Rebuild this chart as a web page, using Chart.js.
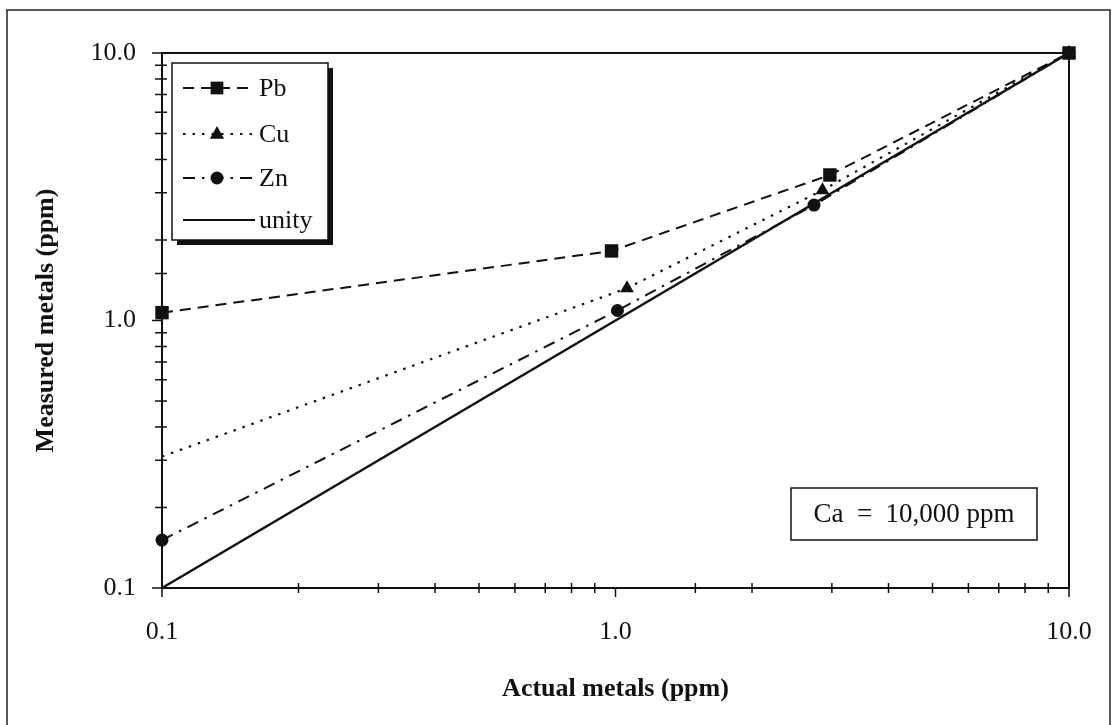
<!DOCTYPE html>
<html>
<head>
<meta charset="utf-8">
<title>Measured vs actual metals</title>
<script src="https://cdn.jsdelivr.net/npm/chart.js@4/dist/chart.umd.min.js"></script>
<style>
    body { margin: 0; background: #fff; }
    #wrap { width: 1113px; height: 725px; position: relative; }
</style>
</head>
<body>
<div id="wrap"><canvas id="metalsChart"></canvas></div>
<script>
// measured vs actual concentration, log-log
const pbActual = [0.1, 0.98, 2.97, 10];
const pbMeasured = [1.07, 1.82, 3.5, 10];
const cuActual = [0.1, 1.06, 2.86, 10];
const cuMeasured = [0.31, 1.32, 3.07, 10];
const znActual = [0.1, 1.01, 2.74, 10];
const znMeasured = [0.151, 1.09, 2.7, 10];
const unityValues = [0.1, 10];
const majorTicks = [0.1, 1, 10];

const INK = '#111';
const SERIF = '"Liberation Serif", "Times New Roman", serif';

function toPoints(xs, ys) {
    return xs.map((x, i) => ({ x: x, y: ys[i] }));
}

function isMajor(v) {
    return majorTicks.some(m => Math.abs(m - v) < 1e-9);
}

// marker shapes for the legend
function drawMarker(ctx, style, x, y, r) {
    ctx.save();
    ctx.fillStyle = INK;
    ctx.setLineDash([]);
    ctx.beginPath();
    if (style === 'rect') {
        const s = r * Math.SQRT1_2;
        ctx.rect(x - s, y - s, 2 * s, 2 * s);
    } else if (style === 'triangle') {
        ctx.moveTo(x, y - r);
        ctx.lineTo(x + r * 0.9, y + r * 0.6);
        ctx.lineTo(x - r * 0.9, y + r * 0.6);
        ctx.closePath();
    } else if (style === 'circle') {
        ctx.arc(x, y, r, 0, Math.PI * 2);
    }
    ctx.fill();
    ctx.restore();
}

// frame, crossing tick marks, legend box and the Ca note
const decorPlugin = {
    id: 'decor',
    beforeDraw(chart) {
        const ctx = chart.ctx;
        ctx.save();
        ctx.fillStyle = '#fff';
        ctx.fillRect(0, 0, chart.width, chart.height);
        ctx.strokeStyle = '#222';
        ctx.lineWidth = 1.5;
        ctx.strokeRect(7, 10, 1103, 740);
        ctx.restore();
    },
    afterDatasetsDraw(chart) {
        const ctx = chart.ctx;
        const area = chart.chartArea;
        const xs = chart.scales.x;
        const ys = chart.scales.y;

        ctx.save();
        ctx.strokeStyle = INK;
        ctx.lineWidth = 2;
        ctx.setLineDash([]);
        ctx.strokeRect(area.left, area.top, area.right - area.left, area.bottom - area.top);

        ctx.lineWidth = 1.5;
        ctx.beginPath();
        ys.ticks.forEach(t => {
            const py = ys.getPixelForValue(t.value);
            if (isMajor(t.value)) {
                ctx.moveTo(area.left - 10, py);
                ctx.lineTo(area.left, py);
            } else {
                ctx.moveTo(area.left - 7, py);
                ctx.lineTo(area.left + 5, py);
            }
        });
        xs.ticks.forEach(t => {
            const px = xs.getPixelForValue(t.value);
            if (isMajor(t.value)) {
                ctx.moveTo(px, area.bottom);
                ctx.lineTo(px, area.bottom + 9);
            } else {
                ctx.moveTo(px, area.bottom - 5);
                ctx.lineTo(px, area.bottom + 5);
            }
        });
        ctx.stroke();
        ctx.restore();

        drawLegend(chart);
        drawNote(chart);
    }
};

function drawLegend(chart) {
    const ctx = chart.ctx;
    const area = chart.chartArea;
    const left = area.left + 10, top = area.top + 10;
    const w = 156, h = 177;

    ctx.save();
    ctx.fillStyle = INK;
    ctx.fillRect(left + 5, top + 5, w, h);
    ctx.fillStyle = '#fff';
    ctx.fillRect(left, top, w, h);
    ctx.strokeStyle = INK;
    ctx.lineWidth = 1.5;
    ctx.strokeRect(left, top, w, h);

    ctx.font = '26px ' + SERIF;
    ctx.textBaseline = 'middle';
    ctx.textAlign = 'left';
    const rows = [25, 71, 115, 157];
    chart.data.datasets.forEach((ds, i) => {
        const y = top + rows[i];
        ctx.strokeStyle = INK;
        ctx.lineWidth = 2;
        ctx.setLineDash(ds.borderDash || []);
        ctx.beginPath();
        ctx.moveTo(left + 11, y);
        ctx.lineTo(left + 83, y);
        ctx.stroke();
        if (ds.pointStyle && ds.legendMarker) {
            drawMarker(ctx, ds.pointStyle, left + 45, y, ds.legendMarker);
        }
        ctx.fillStyle = INK;
        ctx.fillText(ds.label, left + 87, y + 1);
    });
    ctx.restore();
}

function drawNote(chart) {
    const ctx = chart.ctx;
    const area = chart.chartArea;
    const right = area.right - 32, bottom = area.bottom - 48;
    const w = 246, h = 52;
    ctx.save();
    ctx.fillStyle = '#fff';
    ctx.fillRect(right - w, bottom - h, w, h);
    ctx.strokeStyle = INK;
    ctx.lineWidth = 1.5;
    ctx.strokeRect(right - w, bottom - h, w, h);
    ctx.fillStyle = INK;
    ctx.font = '27px ' + SERIF;
    ctx.textAlign = 'center';
    ctx.textBaseline = 'middle';
    ctx.fillText('Ca  =  10,000 ppm', right - w / 2, bottom - h / 2 + 1);
    ctx.restore();
}

function buildChart() {
    const ctx = document.getElementById('metalsChart');
    new Chart(ctx, {
        type: 'scatter',
        data: {
            datasets: [{
                label: 'Pb',
                data: toPoints(pbActual, pbMeasured),
                showLine: true,
                borderColor: INK,
                borderWidth: 2,
                borderDash: [11, 7],
                pointStyle: 'rect',
                pointRadius: 9.5,
                legendMarker: 9,
                pointBackgroundColor: INK,
                pointBorderWidth: 0,
                clip: false
            }, {
                label: 'Cu',
                data: toPoints(cuActual, cuMeasured),
                showLine: true,
                borderColor: INK,
                borderWidth: 2.2,
                borderDash: [2.5, 7],
                pointStyle: 'triangle',
                pointRadius: [0, 8, 8, 8],
                legendMarker: 8,
                pointBackgroundColor: INK,
                pointBorderWidth: 0,
                clip: false
            }, {
                label: 'Zn',
                data: toPoints(znActual, znMeasured),
                showLine: true,
                borderColor: INK,
                borderWidth: 2,
                borderDash: [12, 7, 2.5, 7],
                pointStyle: 'circle',
                pointRadius: 6.5,
                legendMarker: 6.5,
                pointBackgroundColor: INK,
                pointBorderWidth: 0,
                clip: false
            }, {
                label: 'unity',
                data: toPoints(unityValues, unityValues),
                showLine: true,
                borderColor: INK,
                borderWidth: 2.5,
                pointRadius: 0,
                clip: false
            }]
        },
        options: {
            responsive: true,
            maintainAspectRatio: false,
            animation: false,
            events: [],
            layout: { padding: { left: 0, top: 53, right: 44, bottom: 0 } },
            plugins: {
                legend: { display: false },
                tooltip: { enabled: false }
            },
            elements: { line: { tension: 0 } },
            scales: {
                x: {
                    type: 'logarithmic',
                    min: 0.1,
                    max: 10,
                    grid: { display: false, drawTicks: false },
                    border: { display: false },
                    afterFit(scale) {
                        scale.height = 137;
                        scale.paddingLeft = 0;
                        scale.paddingRight = 0;
                    },
                    ticks: {
                        autoSkip: false,
                        maxRotation: 0,
                        padding: 29,
                        color: INK,
                        font: { family: SERIF, size: 26 },
                        callback: v => isMajor(v) ? Number(v).toFixed(1) : ''
                    },
                    title: {
                        display: true,
                        text: 'Actual metals (ppm)',
                        color: INK,
                        font: { family: SERIF, size: 26, weight: 'bold' },
                        padding: { top: 0, bottom: 20 }
                    }
                },
                y: {
                    type: 'logarithmic',
                    min: 0.1,
                    max: 10,
                    grid: { display: false, drawTicks: false },
                    border: { display: false },
                    afterFit(scale) { scale.width = 162; },
                    ticks: {
                        autoSkip: false,
                        padding: 26,
                        color: INK,
                        font: { family: SERIF, size: 26 },
                        callback: v => isMajor(v) ? Number(v).toFixed(1) : ''
                    },
                    title: {
                        display: true,
                        text: 'Measured metals (ppm)',
                        color: INK,
                        font: { family: SERIF, size: 26, weight: 'bold' },
                        padding: { top: 31, bottom: 0 }
                    }
                }
            }
        },
        plugins: [decorPlugin]
    });
}

document.addEventListener('DOMContentLoaded', buildChart);
</script>
</body>
</html>
